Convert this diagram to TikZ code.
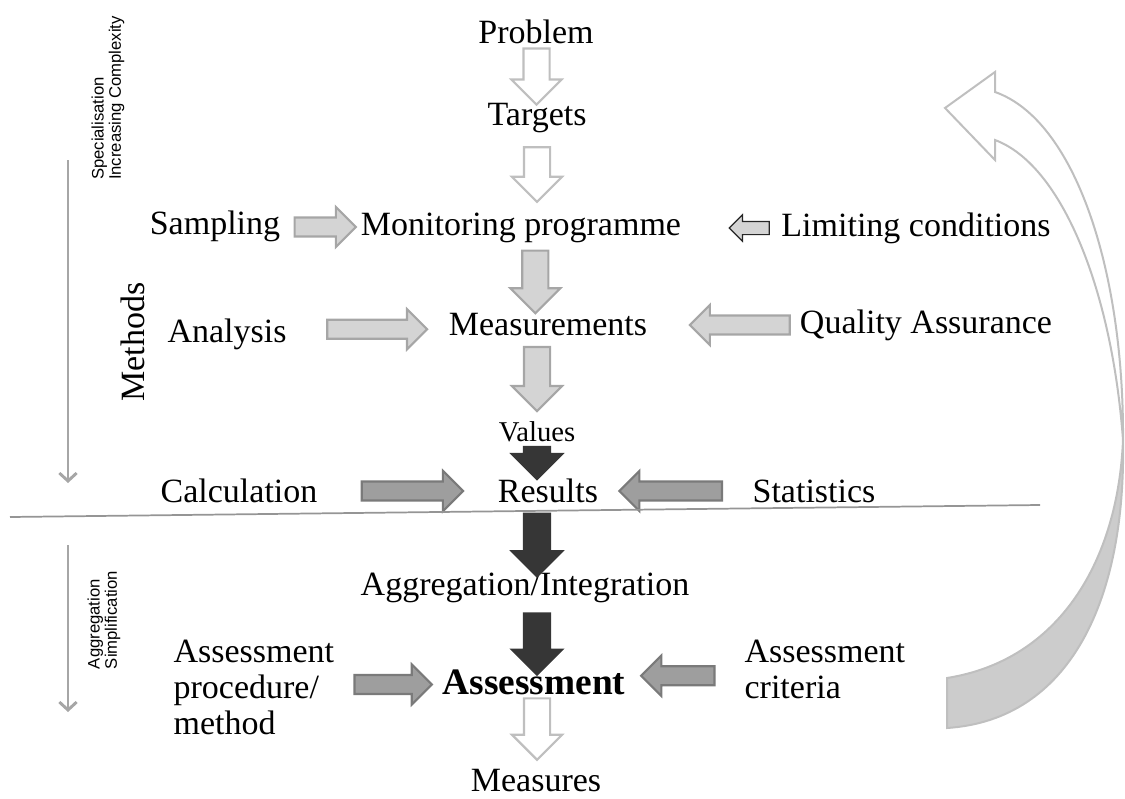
\documentclass[tikz,border=0pt]{standalone}
\usepackage{fontspec}
\setmainfont{Liberation Serif}
\setsansfont{Liberation Sans}
\usetikzlibrary{arrows.meta,positioning,calc,shapes.arrows}
\definecolor{hollowline}{HTML}{BFBFBF}
\definecolor{lightfill}{HTML}{D4D4D4}
\definecolor{lightline}{HTML}{A6A6A6}
\definecolor{midfill}{HTML}{9E9E9E}
\definecolor{midline}{HTML}{7A7A7A}
\definecolor{darkfill}{HTML}{363636}
\definecolor{sideline}{HTML}{A6A6A6}
\definecolor{curvefill}{HTML}{CCCCCC}

\begin{document}
\begin{tikzpicture}[x=0.75pt, y=-0.75pt,
  lbl/.style={font=\fontsize{25.5}{27}\selectfont, inner sep=1pt},
  small/.style={font=\fontsize{21.5}{24}\selectfont, inner sep=1pt},
  side/.style={font=\sffamily\fontsize{12.5}{13}\selectfont, rotate=90, align=left, inner sep=0pt},
  blk/.style={single arrow, minimum width=0pt, inner xsep=0pt, single arrow tip angle=90, line width=1.6pt},
  vblk/.style={blk, rotate=-90, inner ysep=9pt, single arrow head extend=9pt},
  hblk/.style={blk, inner ysep=6.3pt, single arrow head extend=8pt},
  hollow/.style={draw=hollowline, fill=white},
  light/.style={draw=lightline, fill=lightfill},
  medium/.style={draw=midline, fill=midfill},
  dark/.style={draw=darkfill, fill=darkfill}]
  \useasboundingbox (0,0) rectangle (1125,799);

  % feedback arrow on the right
  \coordinate (cu) at (1123,440);
  \filldraw[draw=hollowline, fill=curvefill, line width=1.5pt] (cu) .. controls (1118,560) and (1060,660) .. (947,678) -- (947,728) .. controls (1070,720) and (1126,600) .. (cu);
  \filldraw[draw=hollowline, fill=white, line width=1.5pt] (cu) .. controls (1124,270) and (1075,120) .. (995,92) -- (995,72) -- (945,108) -- (995,160) -- (995,140) .. controls (1062,165) and (1112,290) .. (cu) -- cycle;

  % labels
  \node[lbl] (problem) at (536,32) {Problem};
  \node[lbl] (targets) at (537,118) {Targets};
  \node[lbl] (monitor) at (521,228) {Monitoring programme};
  \node[lbl] (sampling) at (215,226) {Sampling};
  \node[lbl] (limit) at (916,228) {Limiting conditions};
  \node[lbl] (measure) at (548,325) {Measurements};
  \node[lbl] (analysis) at (227,334) {Analysis};
  \node[lbl] (quality) at (926,325) {Quality Assurance};
  \node[small] (values) at (537,432) {Values};
  \node[lbl] (results) at (548,491) {Results};
  \node[lbl] (calc) at (239,491) {Calculation};
  \node[lbl] (stats) at (814,491) {Statistics};
  \node[lbl] (aggr) at (525,588) {Aggregation/Integration};
  \node[lbl, font=\bfseries\fontsize{28}{30}\selectfont] (assess) at (534,682) {Assessment};
  \node[lbl, align=left, anchor=west] (proc) at (172,687) {Assessment\\procedure/\\method};
  \node[lbl, align=left, anchor=west] (crit) at (743,669) {Assessment\\criteria};
  \node[lbl] (measures) at (536,781) {Measures};

  % block arrows
  \node[vblk, hollow, minimum height=42pt] (a1) at ($(problem)!.5!(targets)+(0,-5)$) {};
  \node[vblk, hollow, minimum height=41pt] (a2) at ($(targets)!.5!(targets|-monitor)+(0,-5)$) {};
  \node[hblk, light, minimum height=46pt] (a3) at ($(sampling.east)!.5!(monitor.west)$) {};
  \node[blk, rotate=180, inner ysep=4.5pt, single arrow head extend=5pt, draw=black!85, fill=lightfill, line width=0.9pt, minimum height=30pt] (a4) at ($(monitor.east)!.72!(limit.west)$) {};
  \node[vblk, light, minimum height=47pt] (a5) at ($(monitor)!.53!(measure)+(0,-4)$) {};
  \node[hblk, light, minimum height=75pt] (a6) at ($(analysis.east)!.53!(measure.west)$) {};
  \node[hblk, light, rotate=180, minimum height=75pt] (a7) at ($(measure.east)!.64!(quality.west)$) {};
  \node[vblk, light, minimum height=48pt] (a8) at ($(values|-measure)!.5!(values)+(0,-6)$) {};
  \node[vblk, dark, minimum height=24pt] (a9) at ($(values)!.5!(values|-results)+(0,-5)$) {};
  \node[hblk, medium, minimum height=76pt] (a10) at ($(calc.east)!.5!(results.west)$) {};
  \node[hblk, medium, rotate=180, minimum height=77pt] (a11) at ($(results.east)!.5!(stats.west)$) {};
  \node[vblk, dark, minimum height=47pt] (a12) at ($(values|-results)!.54!(values|-aggr)+(0,-5)$) {};
  \node[vblk, dark, minimum height=46pt] (a13) at ($(values|-aggr)!.58!(values|-assess)+(0,-5)$) {};
  \node[hblk, medium, minimum height=58pt] (a14) at ($(proc.east)!.5!(assess.west)$) {};
  \node[hblk, medium, rotate=180, minimum height=55pt] (a15) at ($(assess.east)!.48!(crit.west)$) {};
  \node[vblk, hollow, minimum height=46pt] (a16) at ($(values|-assess)!.45!(values|-measures)+(0,-4)$) {};

  % left margin
  \node[side] (spec) at (108,98) {Specialisation\\Increasing Complexity};
  \node[lbl, rotate=90] (methods) at (133,342) {Methods};
  \node[side] (simpl) at (104,620) {Aggregation\\Simplification};
  \coordinate (s1) at (68,160);
  \coordinate (s2) at (68,483);
  \coordinate (s3) at (68,545);
  \coordinate (s4) at (68,712);
  \draw[sideline, line width=2.2pt, -{Straight Barb[length=6pt,width=13pt]}] (s1) -- (s2);
  \draw[sideline, line width=2.2pt, -{Straight Barb[length=6pt,width=13pt]}] (s3) -- (s4);

  % divider
  \coordinate (l1) at (10,517);
  \coordinate (l2) at (1040,505);
  \draw[sideline!90!black, line width=1.3pt] (l1) -- (l2);
\end{tikzpicture}
\end{document}
